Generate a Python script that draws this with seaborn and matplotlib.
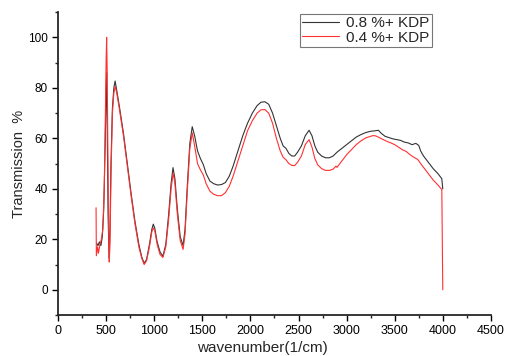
import numpy as np
import pandas as pd
import matplotlib
matplotlib.use("Agg")
import matplotlib.pyplot as plt
from matplotlib.ticker import MultipleLocator
import seaborn as sns

# 0.8 %+ KDP (black)
wn_08 = [400, 415, 430, 445, 460, 475, 490, 500, 505, 512, 520, 530, 540, 550, 565, 580, 593,
         610, 640, 680, 720, 760, 800, 840, 870, 895, 920, 950, 975, 990, 1005, 1030, 1060,
         1090, 1120, 1150, 1175, 1195, 1215, 1240, 1270, 1300, 1320, 1345, 1370, 1395, 1420,
         1450, 1480, 1510, 1540, 1580, 1620, 1660, 1700, 1740, 1780, 1820, 1870, 1920, 1970,
         2020, 2070, 2110, 2150, 2190, 2230, 2270, 2310, 2340, 2370, 2400, 2430, 2460, 2490,
         2530, 2570, 2610, 2640, 2670, 2700, 2740, 2780, 2820, 2860, 2900, 2950, 3000, 3050,
         3100, 3150, 3200, 3250, 3300, 3330, 3360, 3400, 3440, 3480, 3520, 3560, 3600, 3640,
         3680, 3720, 3750, 3770, 3800, 3850, 3900, 3950, 3990, 4000]
tr_08 = [18.5, 17.5, 19, 17.5, 21, 32, 58, 80, 86, 60, 30, 12.5, 25, 50, 72, 80, 82.7,
         79, 72, 62, 50, 38, 27, 18, 13, 10.5, 12, 18, 24, 26, 24.5, 19, 15,
         13.3, 18, 30, 42, 48.4, 44, 32, 21, 17.5, 24, 42, 58, 64.6, 61,
         55, 52, 49.6, 46, 43, 42, 41.5, 41.7, 42.5, 45, 49, 55, 61, 66,
         70, 73, 74.3, 74.5, 73.5, 70, 65, 60, 57, 56, 54, 53, 53, 54.5,
         57, 61, 63.2, 61, 57, 54.5, 53, 52.3, 52.3, 53, 54.5, 56, 57.5, 59,
         60.5, 61.5, 62.3, 62.8, 63, 63.2, 62, 60.8, 60.3, 59.8, 59.5, 59.2, 58.5, 58.2,
         57.5, 58, 57.2, 55, 53, 50.5, 48, 46, 44, 40]

# 0.4 %+ KDP (red)
wn_04 = [395, 398, 410, 420, 435, 450, 465, 480, 492, 500, 505, 510, 518, 525, 532, 540, 550,
         565, 580, 595, 610, 640, 680, 720, 760, 800, 840, 870, 895, 920, 950, 975, 990,
         1005, 1030, 1060, 1090, 1120, 1150, 1175, 1197, 1215, 1240, 1270, 1300, 1320, 1345,
         1370, 1395, 1420, 1450, 1480, 1510, 1540, 1580, 1620, 1660, 1700, 1740, 1780, 1820,
         1870, 1920, 1970, 2020, 2070, 2110, 2150, 2190, 2230, 2270, 2310, 2340, 2370, 2400,
         2430, 2460, 2490, 2530, 2570, 2610, 2640, 2670, 2700, 2740, 2780, 2820, 2860, 2890,
         2900, 2950, 3000, 3050, 3100, 3150, 3200, 3250, 3276, 3300, 3340, 3380, 3420, 3460,
         3500, 3540, 3580, 3620, 3660, 3700, 3740, 3780, 3820, 3860, 3900, 3950, 3990, 4000]
tr_04 = [32.5, 13.5, 17, 14.5, 18, 20, 24, 40, 70, 92, 100, 88, 55, 25, 11, 18, 45,
         70, 78, 80.5, 78, 71, 61, 49, 37, 26, 17, 12.5, 10, 11.5, 17, 23, 24.5,
         23.5, 18, 14, 12.8, 17, 28, 40, 46.4, 42, 30, 19.5, 16, 22, 40,
         56, 62.2, 57, 50, 47.5, 45.5, 42, 39, 37.8, 37.3, 37.3, 38.5, 41, 45,
         51, 57, 63, 67, 70, 71.3, 71.4, 70, 66, 60, 55, 52.5, 51.5, 50,
         49.3, 49.2, 50.5, 53, 57.5, 59.5, 56.5, 52, 49.5, 48, 47.3, 47.3, 47.8, 49,
         48.5, 51, 53.5, 55.5, 57.5, 59, 60.2, 60.8, 61.1, 61, 60.3, 59.5, 58.8, 58.2,
         57.5, 56.5, 55.5, 54.8, 53.5, 52.5, 51.6, 49.5, 47.5, 45.5, 43.5, 41.5, 39.7, 0]

df = pd.concat([
    pd.DataFrame({"wn": wn_08, "tr": tr_08, "sample": "0.8 %+ KDP"}),
    pd.DataFrame({"wn": wn_04, "tr": tr_04, "sample": "0.4 %+ KDP"}),
])

sns.set_style("ticks")
plt.rcParams["font.family"] = ["Liberation Sans", "DejaVu Sans"]

fig = plt.figure(figsize=(5.05, 3.56), dpi=100)
ax = fig.add_axes([0.115, 0.115, 0.857, 0.851])

sns.lineplot(data=df, x="wn", y="tr", hue="sample", estimator=None, sort=False,
             palette={"0.8 %+ KDP": "#333333", "0.4 %+ KDP": "#ff3030"},
             linewidth=0.8, ax=ax)

ax.set_xlim(0, 4500)
ax.set_ylim(-10, 110)
ax.xaxis.set_major_locator(MultipleLocator(500))
ax.xaxis.set_minor_locator(MultipleLocator(250))
ax.yaxis.set_major_locator(MultipleLocator(20))
ax.yaxis.set_minor_locator(MultipleLocator(10))
ax.tick_params(which="major", direction="out", length=4, width=1, colors="black")
ax.tick_params(axis="x", labelsize=9)
ax.tick_params(axis="y", labelsize=8.5)
ax.tick_params(which="minor", direction="out", length=2, width=1)
for s in ["left", "bottom"]:
    ax.spines[s].set_linewidth(1.3)
sns.despine(ax=ax)

ax.set_xlabel("wavenumber(1/cm)", fontsize=11)
ax.set_ylabel("Transmission  %", fontsize=10.5)
ax.xaxis.set_label_coords(0.473, -0.085)
ax.yaxis.set_label_coords(-0.075, 0.5)

leg = ax.legend(loc="upper right", bbox_to_anchor=(0.864, 0.995), fontsize=11,
                frameon=True, fancybox=False, edgecolor="#555555", handlelength=2.4,
                borderpad=0.15, labelspacing=0.05, handletextpad=0.5, borderaxespad=0)
leg.get_frame().set_linewidth(0.8)

fig.savefig("out.png", dpi=100)
